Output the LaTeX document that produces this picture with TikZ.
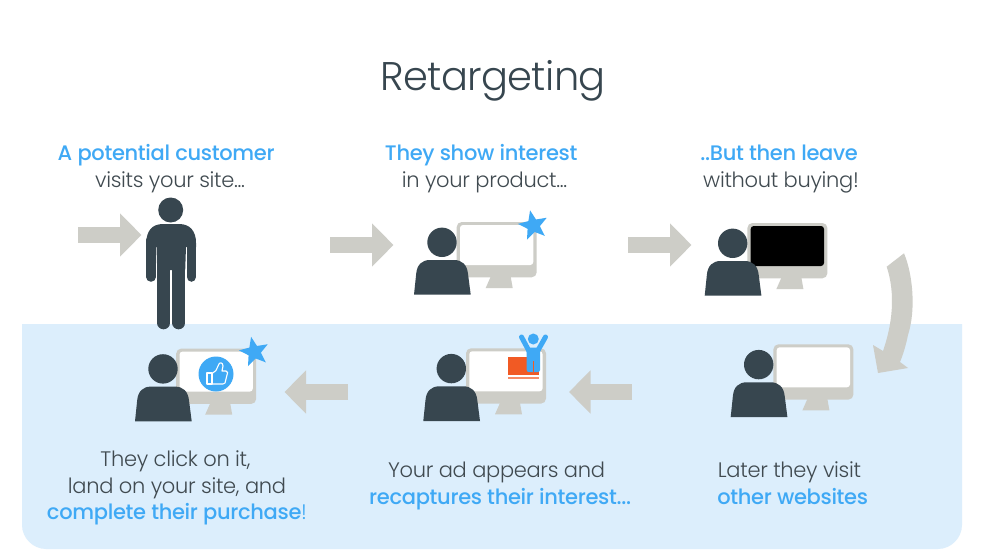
\documentclass[tikz,border=0pt]{standalone}
\usepackage{fontspec}
\setmainfont{Poppins}[UprightFont=* Light,BoldFont=* Medium,LetterSpace=-1.5]
\usetikzlibrary{arrows.meta}
\definecolor{slateink}{HTML}{37464F}
\definecolor{skyblue}{HTML}{3FA9F5}
\definecolor{panelblue}{HTML}{DCEEFC}
\definecolor{stonegray}{HTML}{CDCDC7}
\definecolor{bodytext}{HTML}{404A50}
\definecolor{adorange}{HTML}{F15A24}
\tikzset{
  blockarrow/.style={draw=stonegray,line width=16.5pt,-{Triangle[length=21.5pt,width=42pt,color=stonegray]}},
  captext/.style={font=\fontsize{21}{26.5}\selectfont,text=bodytext,align=center,inner sep=0pt},
  pics/monitor/.style={code={
    \fill[stonegray,rounded corners=5pt] (42.7,-72.7) rectangle (122.7,-17.4);
    \fill[stonegray] (76.7,-18) -- (96.7,-18) -- (98.7,-6.7) -- (71.7,-6.7) -- cycle;
    \fill[#1,rounded corners=3pt] (46,-69.7) rectangle (119.3,-29.7);
  }},
  pics/sitter/.style={code={
    \fill[slateink] (28,-52.4) circle (14.7);
    \fill[slateink] (0,0) -- (2.2,-21) .. controls (3,-30) and (8,-34.7) .. (16,-34.7) -- (40,-34.7) .. controls (48,-34.7) and (53,-30) .. (54,-21) -- (56.7,0) -- cycle;
  }},
  pics/ratingstar/.style={code={
    \fill[skyblue] (-102:15.5) -- (-66:6.6) -- (-30:15.5) -- (6:6.6) -- (42:15.5) -- (78:6.6) -- (114:15.5) -- (150:6.6) -- (186:15.5) -- (222:6.6) -- cycle;
  }}
}
\newcommand{\hl}[1]{\textcolor{skyblue}{\textbf{#1}}}
\begin{document}
\begin{tikzpicture}[x=1pt,y=-1pt]
\useasboundingbox (0,0) rectangle (997,557);
\fill[white] (0,0) rectangle (997,557);
% panel
\fill[panelblue] (22,324) -- (962,324) -- (962,525) .. controls (962,538) and (951,549) .. (938,549) -- (46,549) .. controls (33,549) and (22,538) .. (22,525) -- cycle;
% title
\node[inner sep=0pt,text=slateink,font=\fontsize{40}{48}\selectfont] (title) at (493,81) {Retargeting};
% captions
\node[captext] (cap1) at (166,168.5) {\hl{A potential customer}\\\hspace*{8pt}visits your site...};
\node[captext] (cap2) at (481,168.5) {\hl{They show interest}\\\hspace*{7pt}in your product...};
\node[captext] (cap3) at (779,169) {\hl{..But then leave}\\\hspace*{4pt}without buying!};
\node[captext] (cap4) at (792.5,483) {Later they visit\hspace*{6pt}\\\hl{other websites}};
\node[captext] (cap5) at (500,486) {Your ad appears and\hspace*{7pt}\\\hl{recaptures their interest...}};
\node[captext] (cap6) at (177,488) {They click on it,\hspace*{3pt}\\land on your site, and\hspace*{3pt}\\\hl{complete their purchase}\textcolor{skyblue}{!}};
% standing person
\fill[slateink] (170.7,210) circle (12.5);
\draw[slateink,line width=9.5pt,line cap=round] (151,240) -- (151,277);
\draw[slateink,line width=9.5pt,line cap=round] (191.3,240) -- (191.3,277);
\draw[slateink,line width=12.6pt,line cap=round] (163.6,265) -- (163.6,323);
\draw[slateink,line width=12.6pt,line cap=round] (178.7,265) -- (178.7,323);
\fill[slateink] (146.3,247) -- (146.3,243) .. controls (146.3,231) and (152,224) .. (163,224) -- (179,224) .. controls (190,224) and (196,231) .. (196,243) -- (196,247) -- (186,247) -- (185.2,270) -- (157.2,270) -- (156.5,247) -- cycle;
% viewers
\pic at (414,294.7) {monitor=white};
\pic at (414,294.7) {sitter};
\pic at (704.7,295.7) {monitor=black};
\pic at (704.7,295.7) {sitter};
\pic at (730.7,417) {monitor=white};
\pic at (730.7,417) {sitter};
\pic at (423.3,421) {monitor=white};
\pic at (423.3,421) {sitter};
\pic at (133.5,421.3) {monitor=white};
\pic at (135,421.3) {sitter};
\pic at (533.3,225.5) {ratingstar};
\pic at (254.3,352) {ratingstar};
% thumb badge
\fill[skyblue] (216,374) circle (17.5);
\draw[white,line width=1.1pt,line join=round] (207,373) rectangle (212,384);
\draw[white,line width=1.1pt,line join=round] (212,373.5) -- (216,370.5) -- (218.5,365) .. controls (219,362) and (223,362) .. (223,366) -- (222,371) -- (226,371) .. controls (228,371) and (228,374) .. (227,375) -- (225,383) .. controls (224.5,384) and (224,384) .. (223,384) -- (212,384);
% ad
\fill[adorange] (508.3,357.3) rectangle (539,375);
\fill[adorange!70!white] (508.3,377) rectangle (539,378.6);
\fill[skyblue] (533.3,339) circle (5.5);
\draw[skyblue,line width=5pt,line cap=round] (529,351) -- (521.5,337);
\draw[skyblue,line width=5pt,line cap=round] (537.6,351) -- (545.5,337);
\fill[skyblue,rounded corners=2pt] (526.7,347.5) rectangle (540,372);
\draw[adorange,line width=.6pt] (533.3,361) -- (533.3,372);
% arrows
\coordinate (a1s) at (78,235); \coordinate (a1e) at (141.5,235);
\coordinate (a2s) at (330,245); \coordinate (a2e) at (393.5,245);
\coordinate (a3s) at (628,245); \coordinate (a3e) at (691.5,245);
\coordinate (a5s) at (632,392); \coordinate (a5e) at (569,392);
\coordinate (a6s) at (348,392); \coordinate (a6e) at (284.5,392);
\draw[blockarrow] (a1s) -- (a1e);
\draw[blockarrow] (a2s) -- (a2e);
\draw[blockarrow] (a3s) -- (a3e);
\draw[blockarrow] (a5s) -- (a5e);
\draw[blockarrow] (a6s) -- (a6e);
\fill[stonegray] (904,253.3) .. controls (913,275) and (916,310) .. (908,335) .. controls (906,345) and (903,355) .. (900,362) -- (908,368) -- (878,373) -- (873,345) -- (883,351) .. controls (892,325) and (896,295) .. (886.7,266.7) -- cycle;
\end{tikzpicture}
\end{document}
